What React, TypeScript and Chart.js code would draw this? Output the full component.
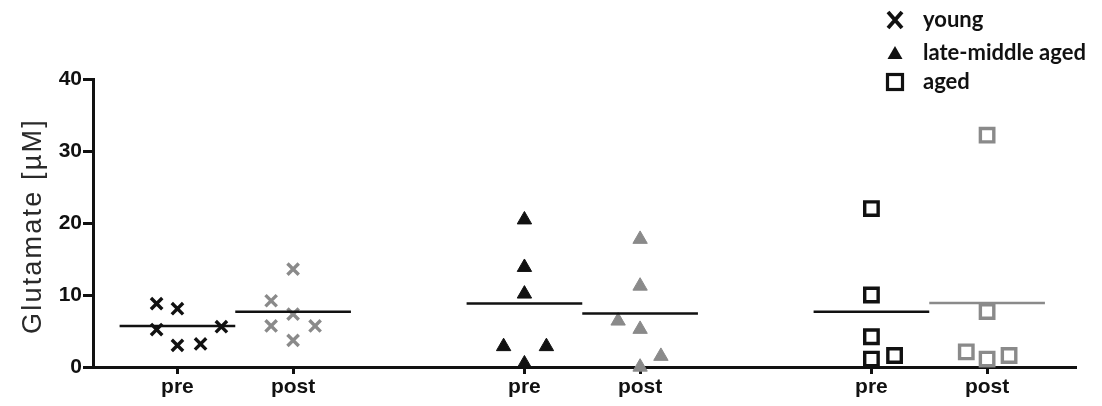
import React, { useEffect, useRef } from "react";
import { Chart, registerables } from "chart.js";

Chart.register(...registerables);

// ---- data ----
const tickPositions = [1, 2, 4, 5, 7, 8];
const tickLabels = ["pre", "post", "pre", "post", "pre", "post"];
const groupNames = ["young", "late-middle aged", "aged"];

const youngPre = [8.8, 8.1, 5.2, 3.0, 3.2, 5.6];
const youngPreJitter = [-0.18, 0, -0.18, 0, 0.2, 0.38];
const youngPost = [13.6, 9.2, 7.35, 5.7, 5.7, 3.7];
const youngPostJitter = [0, -0.19, 0, -0.19, 0.19, 0];

const lmaPre = [20.45, 13.85, 10.15, 2.85, 2.85, 0.45];
const lmaPreJitter = [0, 0, 0, -0.18, 0.19, 0];
const lmaPost = [17.75, 11.25, 6.4, 5.25, 1.5, 0.0];
const lmaPostJitter = [0, 0, -0.19, 0, 0.18, 0];

const agedPre = [22.0, 10.0, 4.2, 1.1, 1.6];
const agedPreJitter = [0, 0, 0, 0, 0.2];
const agedPost = [32.2, 7.7, 2.1, 1.1, 1.6];
const agedPostJitter = [0, 0, -0.18, 0, 0.19];

const means = [5.7, 7.67, 8.83, 7.43, 7.67, 8.88];

const BLACK = "#111111";
const GRAY = "#8a8a8a";

function pts(pos: number, values: number[], jitter: number[]) {
  return values.map((v, i) => ({ x: pos + jitter[i], y: v }));
}

export default function App() {
  const ref = useRef<HTMLCanvasElement | null>(null);

  useEffect(() => {
    if (!ref.current) return;

    const cross = { pointStyle: "crossRot", pointRadius: 8, borderWidth: 3.4 };
    const tri = { pointStyle: "triangle", pointRadius: 8.3, borderWidth: 1 };
    const sq = { pointStyle: "rect", pointRadius: 9.5, borderWidth: 3.4 };

    const scatterSets: any[] = [
      { data: pts(tickPositions[0], youngPre, youngPreJitter), ...cross, borderColor: BLACK, backgroundColor: BLACK },
      { data: pts(tickPositions[1], youngPost, youngPostJitter), ...cross, borderColor: GRAY, backgroundColor: GRAY },
      { data: pts(tickPositions[2], lmaPre, lmaPreJitter), ...tri, borderColor: BLACK, backgroundColor: BLACK },
      { data: pts(tickPositions[3], lmaPost, lmaPostJitter), ...tri, borderColor: GRAY, backgroundColor: GRAY },
      { data: pts(tickPositions[4], agedPre, agedPreJitter), ...sq, borderColor: BLACK, backgroundColor: "#ffffff" },
      { data: pts(tickPositions[5], agedPost, agedPostJitter), ...sq, borderColor: GRAY, backgroundColor: "#ffffff" },
    ].map((d) => ({ ...d, type: "scatter", clip: false, pointHoverRadius: d.pointRadius }));

    const meanColors = [BLACK, BLACK, BLACK, BLACK, BLACK, GRAY];
    const meanSets: any[] = means.map((m, i) => ({
      type: "line",
      data: [
        { x: tickPositions[i] - 0.5, y: m },
        { x: tickPositions[i] + 0.5, y: m },
      ],
      borderColor: meanColors[i],
      borderWidth: 2.5,
      pointRadius: 0,
      fill: false,
      clip: false,
    }));

    const overlay = {
      id: "overlay",
      afterDraw(chart: any) {
        const ctx = chart.ctx as CanvasRenderingContext2D;
        const area = chart.chartArea;
        ctx.save();
        // y axis title
        ctx.translate(41, (area.top + area.bottom) / 2 + 3);
        ctx.rotate(-Math.PI / 2);
        (ctx as any).letterSpacing = "2.2px";
        ctx.font = '27px "Liberation Sans", Arial, sans-serif';
        ctx.fillStyle = "#2a2a2a";
        ctx.textAlign = "center";
        ctx.textBaseline = "alphabetic";
        ctx.fillText("Glutamate [µM]", 0, 0);
        ctx.restore();

        // legend
        ctx.save();
        const mx = 895;
        const rows = [20, 53, 82];
        ctx.strokeStyle = BLACK;
        ctx.fillStyle = BLACK;
        ctx.lineWidth = 3.8;
        // X marker
        ctx.beginPath();
        ctx.moveTo(mx - 7, rows[0] - 8);
        ctx.lineTo(mx + 7, rows[0] + 8);
        ctx.moveTo(mx + 7, rows[0] - 8);
        ctx.lineTo(mx - 7, rows[0] + 8);
        ctx.stroke();
        // triangle
        ctx.beginPath();
        ctx.moveTo(mx, rows[1] - 7);
        ctx.lineTo(mx + 7.5, rows[1] + 6);
        ctx.lineTo(mx - 7.5, rows[1] + 6);
        ctx.closePath();
        ctx.fill();
        // square
        ctx.lineWidth = 3.2;
        ctx.strokeRect(mx - 7.5, rows[2] - 7.5, 15, 15);
        // texts
        ctx.font = 'bold 22px Lato, "Noto Sans", sans-serif';
        ctx.textAlign = "left";
        ctx.textBaseline = "middle";
        groupNames.forEach((n, i) => ctx.fillText(n, 923, rows[i]));
        ctx.restore();
      },
    };

    const tickFont = { family: '"Liberation Sans", Arial, sans-serif', weight: "bold" as const, size: 21 };

    const chart = new Chart(ref.current, {
      type: "scatter",
      data: { datasets: [...meanSets, ...scatterSets] },
      options: {
        animation: false,
        responsive: false,
        devicePixelRatio: 1,
        layout: { padding: { top: 79, right: 27, left: 0, bottom: 0 } },
        plugins: { legend: { display: false }, tooltip: { enabled: false } },
        scales: {
          x: {
            type: "linear",
            min: 0.27,
            max: 8.76,
            afterBuildTicks: (scale: any) => {
              scale.ticks = tickPositions.map((v) => ({ value: v }));
            },
            afterFit: (scale: any) => {
              scale.height = 39;
            },
            ticks: {
              font: tickFont,
              color: BLACK,
              padding: 1,
              autoSkip: false,
              maxRotation: 0,
              callback: (v: any) => {
                const i = tickPositions.indexOf(Number(v));
                return i >= 0 ? tickLabels[i] : "";
              },
            },
            grid: { drawOnChartArea: false, drawTicks: true, tickLength: 7, color: BLACK, lineWidth: 3 },
            border: { display: true, color: BLACK, width: 3 },
          },
          y: {
            type: "linear",
            min: 0,
            max: 40,
            afterFit: (scale: any) => {
              scale.width = 93;
            },
            ticks: { stepSize: 10, font: tickFont, color: BLACK, padding: 1 },
            grid: { drawOnChartArea: false, drawTicks: true, tickLength: 10, color: BLACK, lineWidth: 3 },
            border: { display: true, color: BLACK, width: 3 },
          },
        },
      } as any,
      plugins: [overlay],
    });

    return () => chart.destroy();
  }, []);

  return (
    <div style={{ position: "fixed", left: 0, top: 0, width: 1102, height: 406, background: "#ffffff" }}>
      <canvas ref={ref} width={1102} height={406} style={{ width: 1102, height: 406, display: "block" }} />
    </div>
  );
}
